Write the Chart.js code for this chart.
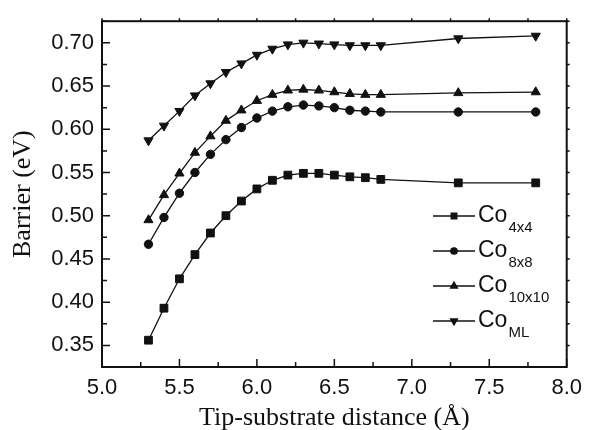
<!DOCTYPE html>
<html>
<head>
<meta charset="utf-8">
<script src="https://cdn.jsdelivr.net/npm/chart.js@4.4.0/dist/chart.umd.min.js"></script>
<style>
  html, body { margin: 0; padding: 0; background: #fff; }
</style>
</head>
<body>
<canvas id="barrier-chart" width="590" height="430"></canvas>
<script>
// values
const distance = [5.3, 5.4, 5.5, 5.6, 5.7, 5.8, 5.9, 6.0, 6.1, 6.2, 6.3, 6.4, 6.5, 6.6, 6.7, 6.8, 7.3, 7.8];
const co4x4   = [0.356, 0.393, 0.427, 0.455, 0.480, 0.500, 0.517, 0.531, 0.541, 0.547, 0.549, 0.549, 0.547, 0.545, 0.544, 0.542, 0.538, 0.538];
const co8x8   = [0.467, 0.498, 0.526, 0.550, 0.571, 0.588, 0.602, 0.613, 0.621, 0.626, 0.628, 0.627, 0.625, 0.622, 0.621, 0.620, 0.620, 0.620];
const co10x10 = [0.495, 0.524, 0.549, 0.573, 0.592, 0.610, 0.622, 0.633, 0.640, 0.645, 0.646, 0.645, 0.643, 0.641, 0.640, 0.640, 0.642, 0.643];
const coML    = [0.587, 0.604, 0.621, 0.639, 0.653, 0.666, 0.676, 0.686, 0.693, 0.698, 0.700, 0.699, 0.698, 0.697, 0.697, 0.697, 0.705, 0.708];

const seriesNames = ['4x4', '8x8', '10x10', 'ML'];
const xTicks = [5.0, 5.5, 6.0, 6.5, 7.0, 7.5, 8.0];
const yTicks = [0.35, 0.40, 0.45, 0.50, 0.55, 0.60, 0.65, 0.70];

const ink = '#111';

function toPoints(ys) {
  return distance.map((d, i) => ({ x: d, y: ys[i] }));
}

function series(name, ys, style, radius, rotation) {
  return {
    label: 'Co' + name,
    data: toPoints(ys),
    borderColor: ink,
    backgroundColor: ink,
    borderWidth: 1.3,
    pointStyle: style,
    pointRadius: radius,
    pointRotation: rotation,
    pointBorderWidth: 1,
    tension: 0
  };
}

// frame and the little inward / outward tick marks
const frame = {
  id: 'frame',
  afterDatasetsDraw(chart) {
    const { ctx, chartArea: a, scales: { x, y } } = chart;
    ctx.save();
    ctx.strokeStyle = ink;
    ctx.lineWidth = 1.5;
    const xs = [];
    xTicks.forEach((v, i) => {
      xs.push([v, true]);
      if (i < xTicks.length - 1) xs.push([(v + xTicks[i + 1]) / 2, false]);
    });
    const ys = [];
    yTicks.forEach((v, i) => {
      ys.push([v, true]);
      if (i < yTicks.length - 1) ys.push([(v + yTicks[i + 1]) / 2, false]);
    });
    ys.unshift([yTicks[0] - 0.025, false]);
    ys.push([yTicks[yTicks.length - 1] + 0.025, false]);
    ctx.beginPath();
    xs.forEach(([v, major]) => {
      const px = x.getPixelForValue(v);
      ctx.moveTo(px, a.bottom);
      ctx.lineTo(px, a.bottom - (major ? 8 : 5));
      ctx.moveTo(px, a.top);
      ctx.lineTo(px, a.top - 3);
    });
    ys.forEach(([v, major]) => {
      const py = y.getPixelForValue(v);
      if (py < a.top || py > a.bottom) return;
      ctx.moveTo(a.left, py);
      ctx.lineTo(a.left + (major ? 8 : 5), py);
      ctx.moveTo(a.right, py);
      ctx.lineTo(a.right + 3, py);
    });
    ctx.stroke();
    ctx.lineWidth = 2;
    ctx.strokeRect(a.left, a.top, a.right - a.left, a.bottom - a.top);
    ctx.restore();
  }
};

// legend with subscripts, inside the plot
const subLegend = {
  id: 'subLegend',
  afterDraw(chart) {
    const { ctx } = chart;
    ctx.save();
    chart.data.datasets.forEach((ds, i) => {
      const ly = 216 + i * 35;
      ctx.strokeStyle = ink;
      ctx.fillStyle = ink;
      ctx.lineWidth = 1.3;
      ctx.beginPath();
      ctx.moveTo(433, ly);
      ctx.lineTo(475, ly);
      ctx.stroke();
      Chart.helpers.drawPoint(ctx, {
        pointStyle: ds.pointStyle,
        radius: ds.pointStyle === 'circle' ? 3.2 : 4,
        rotation: ds.pointRotation,
        borderWidth: 1
      }, 454, ly);
      ctx.font = '23px "Liberation Sans", Arial, sans-serif';
      ctx.textBaseline = 'middle';
      ctx.textAlign = 'left';
      ctx.fillText('Co', 478, ly);
      const w = ctx.measureText('Co').width;
      ctx.font = '15px "Liberation Sans", Arial, sans-serif';
      ctx.textBaseline = 'alphabetic';
      ctx.fillText(seriesNames[i], 478 + w + 1, ly + 16);
    });
    ctx.restore();
  }
};

new Chart(document.getElementById('barrier-chart'), {
  type: 'line',
  data: {
    datasets: [
      series(seriesNames[0], co4x4, 'rect', 5.5, 0),
      series(seriesNames[1], co8x8, 'circle', 4.2, 0),
      series(seriesNames[2], co10x10, 'triangle', 5.3, 0),
      series(seriesNames[3], coML, 'triangle', 5.3, 180)
    ]
  },
  options: {
    responsive: false,
    animation: false,
    devicePixelRatio: 1,
    layout: { padding: { left: 0, right: 18, top: 15, bottom: 0 } },
    plugins: {
      legend: { display: false },
      tooltip: { enabled: false }
    },
    scales: {
      x: {
        type: 'linear',
        min: 5.0,
        max: 8.0,
        afterBuildTicks: s => { s.ticks = xTicks.map(v => ({ value: v })); },
        afterFit: s => { s.height = 63; },
        grid: { display: false, drawTicks: false },
        border: { display: false },
        ticks: {
          padding: 8,
          color: ink,
          font: { family: '"Liberation Sans", Arial, sans-serif', size: 22 },
          callback: v => Number(v).toFixed(1)
        },
        title: {
          display: true,
          text: 'Tip-substrate distance (Å)',
          color: ink,
          padding: { top: 0, bottom: -4 },
          font: { family: '"Liberation Serif", "Times New Roman", serif', size: 26 }
        }
      },
      y: {
        type: 'linear',
        min: 0.325,
        max: 0.725,
        afterBuildTicks: s => { s.ticks = yTicks.map(v => ({ value: v })); },
        afterFit: s => { s.width = 102; },
        grid: { display: false, drawTicks: false },
        border: { display: false },
        ticks: {
          padding: 8,
          color: ink,
          font: { family: '"Liberation Sans", Arial, sans-serif', size: 22 },
          callback: v => Number(v).toFixed(2)
        },
        title: {
          display: true,
          text: 'Barrier (eV)',
          color: ink,
          padding: { top: 8, bottom: 0 },
          font: { family: '"Liberation Serif", "Times New Roman", serif', size: 26 }
        }
      }
    }
  },
  plugins: [frame, subLegend]
});
</script>
</body>
</html>
